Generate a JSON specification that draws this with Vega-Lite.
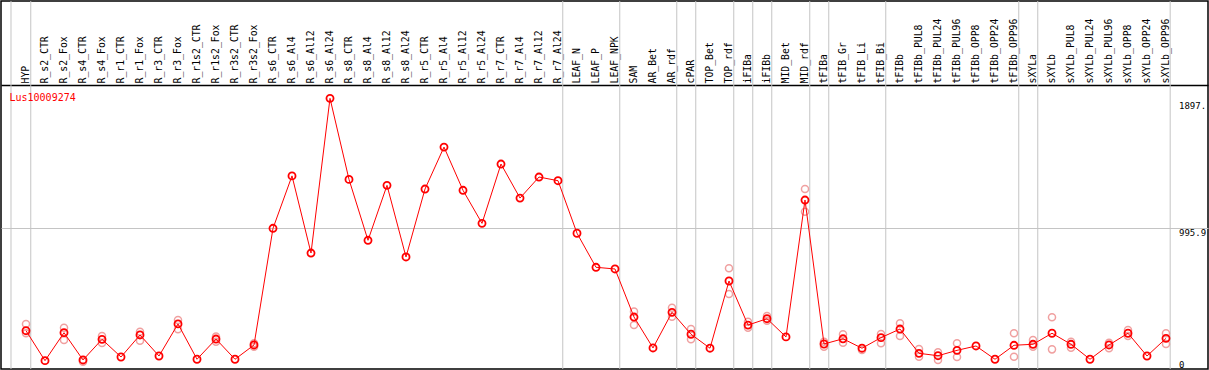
{
  "$schema": "https://vega.github.io/schema/vega-lite/v6.json",
  "width": 1207,
  "height": 368,
  "autosize": {"type": "none"},
  "padding": {"left": 1, "top": 1, "right": 1, "bottom": 1},
  "background": "white",
  "title": {"text": "Lus10009274", "anchor": "start", "frame": "group", "color": "red", "font": "DejaVu Sans Mono", "fontSize": 10, "fontWeight": "normal", "offset": 0, "baseline": "top", "dx": 8.5, "dy": 102},
  "config": {"view": {"stroke": "black", "strokeWidth": 1.5}, "font": "DejaVu Sans Mono"},
  "datasets": {
    "seps": [{"i": -0.79}, {"i": 0.25}, {"i": 28.25}, {"i": 31.25}, {"i": 34.25}, {"i": 35.25}, {"i": 37.25}, {"i": 38.25}, {"i": 39.25}, {"i": 41.25}, {"i": 42.25}, {"i": 45.25}, {"i": 52.25}, {"i": 53.25}, {"i": 60.22}],
    "means": [
      {"i": 0, "name": "HYP", "value": 271}, {"i": 1, "name": "R_s2_CTR", "value": 59}, {"i": 2, "name": "R_s2_Fox", "value": 257}, {"i": 3, "name": "R_s4_CTR", "value": 64}, {"i": 4, "name": "R_s4_Fox", "value": 210}, {"i": 5, "name": "R_r1_CTR", "value": 85}, {"i": 6, "name": "R_r1_Fox", "value": 241}, {"i": 7, "name": "R_r3_CTR", "value": 92}, {"i": 8, "name": "R_r3_Fox", "value": 319}, {"i": 9, "name": "R_r1s2_CTR", "value": 69}, {"i": 10, "name": "R_r1s2_Fox", "value": 212}, {"i": 11, "name": "R_r3s2_CTR", "value": 69}, {"i": 12, "name": "R_r3s2_Fox", "value": 170},
      {"i": 13, "name": "R_s6_CTR", "value": 996}, {"i": 14, "name": "R_s6_Al4", "value": 1367}, {"i": 15, "name": "R_s6_Al12", "value": 821}, {"i": 16, "name": "R_s6_Al24", "value": 1916}, {"i": 17, "name": "R_s8_CTR", "value": 1342}, {"i": 18, "name": "R_s8_Al4", "value": 911}, {"i": 19, "name": "R_s8_Al12", "value": 1300}, {"i": 20, "name": "R_s8_Al24", "value": 793}, {"i": 21, "name": "R_r5_CTR", "value": 1274}, {"i": 22, "name": "R_r5_Al4", "value": 1571}, {"i": 23, "name": "R_r5_Al12", "value": 1265}, {"i": 24, "name": "R_r5_Al24", "value": 1031}, {"i": 25, "name": "R_r7_CTR", "value": 1451}, {"i": 26, "name": "R_r7_Al4", "value": 1210}, {"i": 27, "name": "R_r7_Al12", "value": 1359}, {"i": 28, "name": "R_r7_Al24", "value": 1333},
      {"i": 29, "name": "LEAF_N", "value": 961}, {"i": 30, "name": "LEAF_P", "value": 720}, {"i": 31, "name": "LEAF_NPK", "value": 708}, {"i": 32, "name": "SAM", "value": 368}, {"i": 33, "name": "AR_Bet", "value": 149}, {"i": 34, "name": "AR_rdf", "value": 401}, {"i": 35, "name": "cPAR", "value": 246}, {"i": 36, "name": "TOP_Bet", "value": 147}, {"i": 37, "name": "TOP_rdf", "value": 623}, {"i": 38, "name": "iFIBa", "value": 311}, {"i": 39, "name": "iFIBb", "value": 356}, {"i": 40, "name": "MID_Bet", "value": 227}, {"i": 41, "name": "MID_rdf", "value": 1196},
      {"i": 42, "name": "tFIBa", "value": 177}, {"i": 43, "name": "tFIB_Gr", "value": 214}, {"i": 44, "name": "tFIB_Li", "value": 147}, {"i": 45, "name": "tFIB_Bi", "value": 222}, {"i": 46, "name": "tFIBb", "value": 283}, {"i": 47, "name": "tFIBb_PUL8", "value": 111}, {"i": 48, "name": "tFIBb_PUL24", "value": 94}, {"i": 49, "name": "tFIBb_PUL96", "value": 132}, {"i": 50, "name": "tFIBb_OPP8", "value": 163}, {"i": 51, "name": "tFIBb_OPP24", "value": 69}, {"i": 52, "name": "tFIBb_OPP96", "value": 168},
      {"i": 53, "name": "sXYLa", "value": 175}, {"i": 54, "name": "sXYLb", "value": 253}, {"i": 55, "name": "sXYLb_PUL8", "value": 175}, {"i": 56, "name": "sXYLb_PUL24", "value": 69}, {"i": 57, "name": "sXYLb_PUL96", "value": 170}, {"i": 58, "name": "sXYLb_OPP8", "value": 253}, {"i": 59, "name": "sXYLb_OPP24", "value": 92}, {"i": 60, "name": "sXYLb_OPP96", "value": 217}
    ],
    "reps": [
      {"i": 0, "value": 319}, {"i": 0, "value": 253},
      {"i": 2, "value": 292}, {"i": 2, "value": 205},
      {"i": 3, "value": 52},
      {"i": 4, "value": 234}, {"i": 4, "value": 184},
      {"i": 6, "value": 264}, {"i": 6, "value": 200},
      {"i": 8, "value": 347}, {"i": 8, "value": 281},
      {"i": 10, "value": 229}, {"i": 10, "value": 193},
      {"i": 12, "value": 182}, {"i": 12, "value": 158},
      {"i": 32, "value": 406}, {"i": 32, "value": 311},
      {"i": 34, "value": 434}, {"i": 34, "value": 370},
      {"i": 35, "value": 283}, {"i": 35, "value": 210},
      {"i": 37, "value": 713}, {"i": 37, "value": 531},
      {"i": 38, "value": 335}, {"i": 38, "value": 292},
      {"i": 39, "value": 375}, {"i": 39, "value": 342},
      {"i": 41, "value": 1274}, {"i": 41, "value": 1113},
      {"i": 42, "value": 193}, {"i": 42, "value": 158},
      {"i": 43, "value": 246}, {"i": 43, "value": 186},
      {"i": 44, "value": 134},
      {"i": 45, "value": 248}, {"i": 45, "value": 182},
      {"i": 46, "value": 323}, {"i": 46, "value": 234},
      {"i": 47, "value": 142}, {"i": 47, "value": 87},
      {"i": 48, "value": 118}, {"i": 48, "value": 64},
      {"i": 49, "value": 182}, {"i": 49, "value": 85},
      {"i": 52, "value": 253}, {"i": 52, "value": 87},
      {"i": 53, "value": 205}, {"i": 53, "value": 158},
      {"i": 54, "value": 366}, {"i": 54, "value": 139},
      {"i": 55, "value": 193}, {"i": 55, "value": 151},
      {"i": 57, "value": 186}, {"i": 57, "value": 147},
      {"i": 58, "value": 276}, {"i": 58, "value": 234},
      {"i": 60, "value": 253}, {"i": 60, "value": 177}
    ]
  },
  "encoding": {
    "x": {
      "field": "i", "type": "quantitative",
      "scale": {"domain": [-1.3158, 62.2105], "nice": false, "zero": false},
      "axis": {
        "orient": "top", "offset": -84, "title": null,
        "values": [0,1,2,3,4,5,6,7,8,9,10,11,12,13,14,15,16,17,18,19,20,21,22,23,24,25,26,27,28,29,30,31,32,33,34,35,36,37,38,39,40,41,42,43,44,45,46,47,48,49,50,51,52,53,54,55,56,57,58,59,60],
        "labelExpr": "['HYP','R_s2_CTR','R_s2_Fox','R_s4_CTR','R_s4_Fox','R_r1_CTR','R_r1_Fox','R_r3_CTR','R_r3_Fox','R_r1s2_CTR','R_r1s2_Fox','R_r3s2_CTR','R_r3s2_Fox','R_s6_CTR','R_s6_Al4','R_s6_Al12','R_s6_Al24','R_s8_CTR','R_s8_Al4','R_s8_Al12','R_s8_Al24','R_r5_CTR','R_r5_Al4','R_r5_Al12','R_r5_Al24','R_r7_CTR','R_r7_Al4','R_r7_Al12','R_r7_Al24','LEAF_N','LEAF_P','LEAF_NPK','SAM','AR_Bet','AR_rdf','cPAR','TOP_Bet','TOP_rdf','iFIBa','iFIBb','MID_Bet','MID_rdf','tFIBa','tFIB_Gr','tFIB_Li','tFIB_Bi','tFIBb','tFIBb_PUL8','tFIBb_PUL24','tFIBb_PUL96','tFIBb_OPP8','tFIBb_OPP24','tFIBb_OPP96','sXYLa','sXYLb','sXYLb_PUL8','sXYLb_PUL24','sXYLb_PUL96','sXYLb_OPP8','sXYLb_OPP24','sXYLb_OPP96'][datum.value]",
        "labelAngle": 270, "labelPadding": 2, "labelOffset": -1,
        "ticks": false, "grid": false,
        "domain": true, "domainColor": "black", "domainWidth": 1.5,
        "labelFont": "DejaVu Sans Mono", "labelFontSize": 9.8, "labelColor": "black",
        "labelOverlap": false, "labelFlush": false, "labelBound": false
      }
    }
  },
  "layer": [
    {
      "data": {"name": "seps"},
      "mark": {"type": "rule", "color": "#c4c4c4", "strokeWidth": 1}
    },
    {
      "data": {"name": "reps"},
      "mark": {"type": "point", "shape": "circle", "filled": false, "color": "#f0a0a0", "strokeWidth": 1.5, "size": 50, "opacity": 1},
      "encoding": {
        "y": {"field": "value", "type": "quantitative", "scale": {"domain": [0, 2605], "nice": false, "zero": true},
          "axis": {
            "orient": "right", "title": null, "values": [0, 995.9, 1897],
            "labelExpr": "datum.value == 1897 ? '1897.' : (datum.value == 0 ? '0' : '995.9')",
            "ticks": false, "tickSize": 0, "domain": false,
            "grid": true, "gridColor": "#c4c4c4", "gridWidth": 1,
            "gridOpacity": {"condition": {"test": "datum.value == 995.9", "value": 1}, "value": 0},
            "labelAlign": "left", "labelPadding": -29.5,
            "labelBaseline": {"condition": {"test": "datum.value == 0", "value": "bottom"}, "value": "top"},
            "labelFont": "DejaVu Sans Mono", "labelFontSize": 9, "labelColor": "black",
            "labelFlush": false, "labelOverlap": false, "labelBound": false
          }
        }
      }
    },
    {
      "data": {"name": "means"},
      "mark": {"type": "line", "color": "#ff0000", "strokeWidth": 1},
      "encoding": {
        "y": {"field": "value", "type": "quantitative"}
      }
    },
    {
      "data": {"name": "means"},
      "mark": {"type": "point", "shape": "circle", "filled": false, "color": "#ff0000", "strokeWidth": 1.8, "size": 50, "opacity": 1},
      "encoding": {
        "y": {"field": "value", "type": "quantitative"}
      }
    }
  ]
}
